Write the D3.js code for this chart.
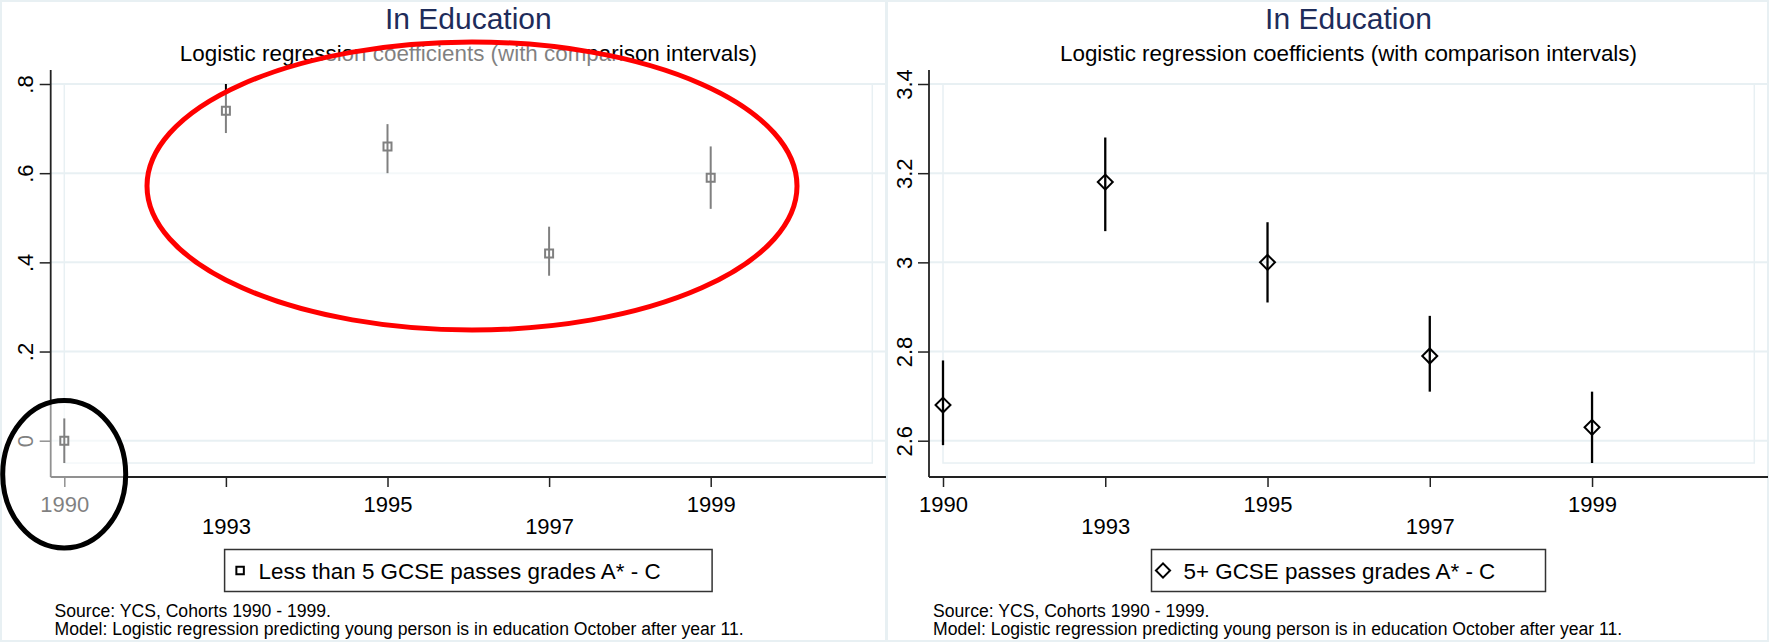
<!DOCTYPE html>
<html>
<head>
<meta charset="utf-8">
<script src="https://cdn.jsdelivr.net/npm/d3@7"></script>
<style>
  body { margin: 0; background: #fff; }
  svg text { font-family: "Liberation Sans", Arial, sans-serif; }
</style>
</head>
<body>
<div id="chart"></div>
<script>
// Cohort years (categorical x positions)
const years = ["1990", "1993", "1995", "1997", "1999"];

// Left panel: Less than 5 GCSE passes
const lessCoef = [0, 0.74, 0.66, 0.42, 0.59];
const lessLo = [-0.05, 0.69, 0.60, 0.37, 0.52];
const lessHi = [0.05, 0.80, 0.71, 0.48, 0.66];
const lessTicks = [0, 0.2, 0.4, 0.6, 0.8];

// Right panel: 5+ GCSE passes
const moreCoef = [2.68, 3.18, 3.00, 2.79, 2.63];
const moreLo = [2.59, 3.07, 2.91, 2.71, 2.55];
const moreHi = [2.78, 3.28, 3.09, 2.88, 2.71];
const moreTicks = [2.6, 2.8, 3, 3.2, 3.4];

const titleText = "In Education";
const subtitleText = "Logistic regression coefficients (with comparison intervals)";
const noteLines = [
  "Source: YCS, Cohorts 1990 - 1999.",
  "Model: Logistic regression predicting young person is in education October after year 11."
];

const width = 1769, height = 643;
const gridColor = "#e8f0f3";
const plotTop = 70, boxTop = 84, boxBottom = 463, axisY = 477;

const svg = d3.select("#chart")
  .append("svg")
  .attr("width", width)
  .attr("height", height);

// stata style labels: ".8" instead of "0.8"
const fmt = d => String(+d.toFixed(2)).replace(/^0\./, ".");

function drawPanel(p) {
  const g = svg.append("g");

  const x = d3.scaleLinear().domain([0, 5]).range([p.boxL, p.boxR]);
  const y = d3.scaleLinear().domain(p.yDomain).range([boxBottom, boxTop]);

  // panel frame
  g.append("rect")
    .attr("x", p.left + 1).attr("y", 1)
    .attr("width", p.right - p.left - 1).attr("height", height - 3)
    .attr("fill", "none").attr("stroke", gridColor).attr("stroke-width", 2);

  // grid lines
  g.selectAll(".grid")
    .data(p.ticks)
    .enter()
    .append("line")
    .attr("x1", p.axisX).attr("x2", p.right)
    .attr("y1", d => y(d)).attr("y2", d => y(d))
    .attr("stroke", gridColor).attr("stroke-width", 2);

  // inner plot box
  g.append("rect")
    .attr("x", p.boxL).attr("y", boxTop)
    .attr("width", p.boxR - p.boxL).attr("height", boxBottom - boxTop)
    .attr("fill", "none").attr("stroke", gridColor).attr("stroke-width", 1.5);

  // y axis
  const yAxis = g.append("g")
    .attr("transform", `translate(${p.axisX},0)`)
    .call(d3.axisLeft(y).tickValues(p.ticks).tickFormat(fmt).tickSize(11).tickSizeOuter(0));
  yAxis.select(".domain").remove();
  yAxis.selectAll(".tick line").attr("stroke", "#222").attr("stroke-width", 1.5);
  yAxis.selectAll(".tick text")
    .attr("x", 0).attr("dy", null)
    .attr("text-anchor", "middle")
    .attr("transform", "translate(-17.5,0) rotate(-90)")
    .attr("font-size", 22)
    .attr("fill", "#000");
  g.append("line")
    .attr("x1", p.axisX).attr("x2", p.axisX)
    .attr("y1", plotTop).attr("y2", axisY)
    .attr("stroke", "#222").attr("stroke-width", 1.8);

  // x axis, labels staggered over two rows
  const xAxis = g.append("g")
    .attr("transform", `translate(0,${axisY})`)
    .call(d3.axisBottom(x).tickValues(d3.range(years.length)).tickFormat(i => years[i]).tickSize(10).tickSizeOuter(0));
  xAxis.select(".domain").remove();
  xAxis.selectAll(".tick line").attr("stroke", "#222").attr("stroke-width", 1.5);
  xAxis.selectAll(".tick text")
    .attr("dy", null)
    .attr("y", (d, i) => i % 2 === 0 ? 34.8 : 56.8)
    .attr("font-size", 22)
    .attr("fill", "#000");
  g.append("line")
    .attr("x1", p.axisX).attr("x2", p.right)
    .attr("y1", axisY).attr("y2", axisY)
    .attr("stroke", "#222").attr("stroke-width", 1.8);

  // comparison intervals
  g.selectAll(".ci")
    .data(p.coef)
    .enter()
    .append("line")
    .attr("x1", (d, i) => x(i)).attr("x2", (d, i) => x(i))
    .attr("y1", (d, i) => y(p.lo[i])).attr("y2", (d, i) => y(p.hi[i]))
    .attr("stroke", "#000").attr("stroke-width", p.lineW);

  // markers
  const sym = d3.symbol().type(d3.symbolSquare).size(p.symSize);
  g.selectAll(".pt")
    .data(p.coef)
    .enter()
    .append("path")
    .attr("d", sym)
    .attr("transform", (d, i) => `translate(${x(i)},${y(d)}) rotate(${p.symRot})`)
    .attr("fill", "none").attr("stroke", "#000").attr("stroke-width", 2);

  // titles, centred on plot region
  const cx = (p.axisX + p.right) / 2;
  g.append("text")
    .attr("x", cx).attr("y", 28.5)
    .attr("text-anchor", "middle")
    .attr("font-size", 30)
    .attr("fill", "#1e2c5a")
    .text(titleText);
  g.append("text")
    .attr("x", cx).attr("y", 61)
    .attr("text-anchor", "middle")
    .attr("font-size", 22.4)
    .attr("fill", "#000")
    .text(subtitleText);

  // legend
  g.append("rect")
    .attr("x", cx - p.legendW / 2).attr("y", 549.5)
    .attr("width", p.legendW).attr("height", 42)
    .attr("fill", "#fff").attr("stroke", "#333").attr("stroke-width", 1.5);
  g.append("path")
    .attr("d", d3.symbol().type(d3.symbolSquare).size(p.legSymSize))
    .attr("transform", `translate(${cx - p.legendW / 2 + p.legSymOff},570.5) rotate(${p.symRot})`)
    .attr("fill", "none").attr("stroke", "#000").attr("stroke-width", 2);
  g.append("text")
    .attr("x", cx - p.legendW / 2 + p.legTextOff).attr("y", 578.5)
    .attr("font-size", 22.4)
    .attr("fill", "#000")
    .text(p.label);

  // notes
  g.selectAll(".note")
    .data(noteLines)
    .enter()
    .append("text")
    .attr("x", p.noteX)
    .attr("y", (d, i) => 617 + i * 17.5)
    .attr("font-size", 17.6)
    .attr("fill", "#000")
    .text(d => d);

  return g;
}

drawPanel({
  left: 0, right: 886, axisX: 50.7, boxL: 64.3, boxR: 872.3,
  yDomain: [-0.05, 0.8], ticks: lessTicks,
  coef: lessCoef, lo: lessLo, hi: lessHi,
  lineW: 2, symSize: 64, symRot: 0,
  label: "Less than 5 GCSE passes grades A* - C",
  legendW: 487.5, legSymOff: 15.5, legSymSize: 56, legTextOff: 34,
  noteX: 54.5
});

drawPanel({
  left: 886, right: 1768, axisX: 929, boxL: 943, boxR: 1754.3,
  yDomain: [2.55, 3.4], ticks: moreTicks,
  coef: moreCoef, lo: moreLo, hi: moreHi,
  lineW: 2.3, symSize: 112, symRot: 45,
  label: "5+ GCSE passes grades A* - C",
  legendW: 394, legSymOff: 11.5, legSymSize: 100, legTextOff: 32,
  noteX: 933
});

// hand-drawn highlight ellipses on the left panel (content inside is faded)
const ellipses = [
  { cx: 472, cy: 186, rx: 325, ry: 144, color: "#ff0000" },
  { cx: 64.2, cy: 474.3, rx: 61.5, ry: 73.7, color: "#000000" }
];
svg.selectAll(".fade")
  .data(ellipses)
  .enter()
  .append("ellipse")
  .attr("cx", d => d.cx).attr("cy", d => d.cy)
  .attr("rx", d => d.rx).attr("ry", d => d.ry)
  .attr("fill", "#fff").attr("fill-opacity", 0.5);
svg.selectAll(".ring")
  .data(ellipses)
  .enter()
  .append("ellipse")
  .attr("cx", d => d.cx).attr("cy", d => d.cy)
  .attr("rx", d => d.rx).attr("ry", d => d.ry)
  .attr("fill", "none").attr("stroke", d => d.color).attr("stroke-width", 5);
</script>
</body>
</html>
